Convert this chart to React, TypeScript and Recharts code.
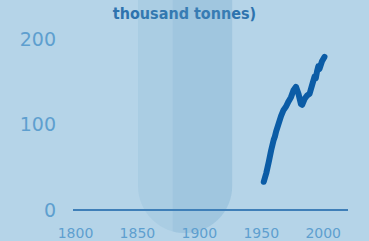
import { LineChart, Line, XAxis, YAxis, ReferenceArea } from 'recharts';

// production, thousand tonnes
const years = [1952, 1954, 1956, 1958, 1960, 1961, 1962, 1964, 1966, 1968, 1970, 1972, 1974, 1976, 1978, 1980, 1982, 1983, 1985, 1987, 1989, 1991, 1993, 1994, 1995, 1996, 1997, 1999, 2001];
const tonnes = [33, 43, 56, 70, 82, 86, 92, 101, 110, 117, 121, 127, 132, 140, 144, 136, 124, 123, 130, 134, 136, 146, 156, 154, 162, 168, 165, 174, 179];

const xTicks = [1800, 1850, 1900, 1950, 2000];
const yTicks = [0, 100, 200];

// shaded period
const bandStart = 1850.5;
const bandSplit = 1878.5;
const bandEnd = 1926.5;

const data = years.map((year, i) => ({ year, value: tonnes[i] }));

const BandShape = (props: any) => {
  const { x, y, width, height } = props;
  const r = width / 2;
  const bottom = y + height;
  const capsule = `M${x},${y} L${x + width},${y} L${x + width},${bottom - r} A${r},${r} 0 0 1 ${x},${bottom - r} Z`;
  const splitX = x + (width * (bandSplit - bandStart)) / (bandEnd - bandStart);
  return (
    <g>
      <defs>
        <clipPath id="band-clip">
          <rect x={splitX} y={y} width={x + width - splitX} height={height} />
        </clipPath>
      </defs>
      <path d={capsule} fill="#5b9cc8" fillOpacity={0.12} />
      <path d={capsule} fill="#5b9cc8" fillOpacity={0.13} clipPath="url(#band-clip)" />
    </g>
  );
};

export default function App() {
  return (
    <div style={{ position: 'fixed', left: 0, top: 0, width: 369, height: 241, background: '#b5d4e8', overflow: 'hidden' }}>
      <div
        style={{
          position: 'absolute',
          left: 0,
          width: 369,
          top: 3,
          textAlign: 'center',
          fontFamily: '"DejaVu Sans Condensed", Roboto, sans-serif',
          fontWeight: 'bold',
          fontSize: 16,
          color: '#2e73ae',
          lineHeight: '22px',
        }}
      >
        thousand tonnes)
      </div>
      <LineChart width={369} height={241} data={data} margin={{ top: 39, right: 21, left: 0, bottom: 0 }}>
        <ReferenceArea
          x1={bandStart}
          x2={bandEnd}
          y1={-27}
          y2={250}
          ifOverflow="visible"
          shape={<BandShape />}
        />
        <XAxis
          dataKey="year"
          type="number"
          domain={[1798, 2020]}
          ticks={xTicks}
          allowDataOverflow
          height={31}
          axisLine={{ stroke: '#3f7fb8', strokeWidth: 2 }}
          tickLine={false}
          tickMargin={12}
          tick={{ fill: '#5e9fcf', fontSize: 14, fontFamily: '"DejaVu Sans", sans-serif' }}
        />
        <YAxis
          type="number"
          domain={[0, 200]}
          ticks={yTicks}
          width={73}
          axisLine={false}
          tickLine={false}
          tickMargin={11}
          tick={{ fill: '#5e9fcf', fontSize: 19, fontFamily: '"DejaVu Sans", sans-serif' }}
        />
        <Line
          dataKey="value"
          stroke="#0b5ca6"
          strokeWidth={6}
          strokeLinecap="round"
          strokeLinejoin="round"
          dot={false}
          isAnimationActive={false}
        />
      </LineChart>
    </div>
  );
}
